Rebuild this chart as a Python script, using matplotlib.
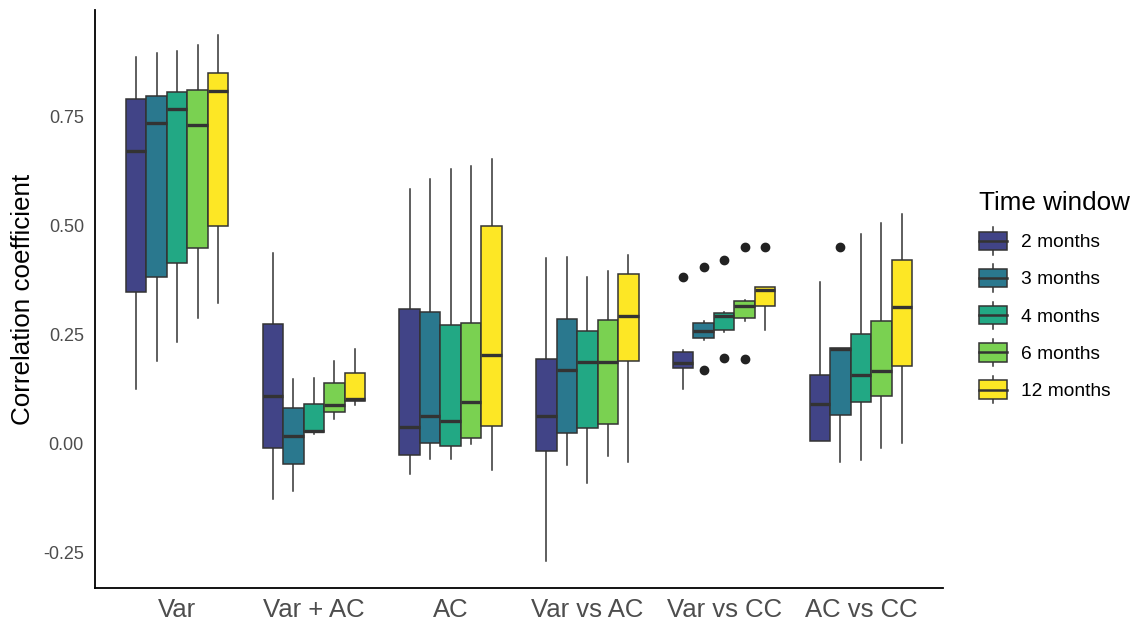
import matplotlib
matplotlib.use("Agg")
import matplotlib.pyplot as plt
from matplotlib.legend_handler import HandlerBase
from matplotlib.patches import Rectangle, Patch
from matplotlib.lines import Line2D

plt.rcParams['font.family'] = ['Liberation Sans', 'DejaVu Sans']

categorias = ["Var", "Var + AC", "AC", "Var vs AC", "Var vs CC", "AC vs CC"]
ventanas = ["2 months", "3 months", "4 months", "6 months", "12 months"]
colores = ["#414487", "#2A788E", "#22A884", "#7AD151", "#FDE725"]

# filas = categorias, columnas = ventanas de tiempo
bigote_sup = [[0.886, 0.896, 0.902, 0.915, 0.938],
              [0.437, 0.147, 0.151, 0.190, 0.216],
              [0.585, 0.608, 0.629, 0.637, 0.654],
              [0.426, 0.429, 0.381, 0.395, 0.433],
              [0.214, 0.280, 0.302, 0.329, 0.360],
              [0.370, 0.220, 0.481, 0.506, 0.527]]
q3 = [[0.790, 0.798, 0.807, 0.811, 0.850],
      [0.273, 0.081, 0.091, 0.139, 0.162],
      [0.309, 0.301, 0.272, 0.277, 0.498],
      [0.194, 0.285, 0.258, 0.283, 0.389],
      [0.209, 0.277, 0.300, 0.327, 0.360],
      [0.158, 0.220, 0.251, 0.282, 0.422]]
mediana = [[0.671, 0.735, 0.767, 0.730, 0.808],
           [0.108, 0.018, 0.028, 0.089, 0.102],
           [0.038, 0.063, 0.051, 0.094, 0.203],
           [0.063, 0.168, 0.187, 0.187, 0.293],
           [0.184, 0.258, 0.293, 0.316, 0.353],
           [0.090, 0.217, 0.158, 0.166, 0.312]]
q1 = [[0.347, 0.382, 0.414, 0.448, 0.500],
      [-0.010, -0.047, 0.026, 0.071, 0.097],
      [-0.026, 0.002, -0.007, 0.013, 0.039],
      [-0.018, 0.024, 0.036, 0.045, 0.190],
      [0.172, 0.241, 0.260, 0.287, 0.316],
      [0.005, 0.065, 0.095, 0.109, 0.177]]
bigote_inf = [[0.124, 0.189, 0.233, 0.287, 0.322],
              [-0.127, -0.110, 0.022, 0.055, 0.089],
              [-0.070, -0.035, -0.035, -0.001, -0.062],
              [-0.271, -0.049, -0.091, -0.029, -0.043],
              [0.124, 0.238, 0.255, 0.281, 0.260],
              [0.005, -0.043, -0.039, -0.011, 0.001]]
atipicos = [[[], [], [], [], []],
            [[], [], [], [], []],
            [[], [], [], [], []],
            [[], [], [], [], []],
            [[0.383], [0.406, 0.168], [0.420, 0.195], [0.451, 0.194], [0.450]],
            [[], [0.451], [], [], []]]

BORDE = "#333333"


class ManejadorCaja(HandlerBase):
    def create_artists(self, legend, orig_handle, xdescent, ydescent, width, height, fontsize, trans):
        x0, y0 = -xdescent, -ydescent
        xm = x0 + width / 2
        sup = Line2D([xm, xm], [y0 + 0.9 * height, y0 + 1.1 * height], color=BORDE, lw=1.1, transform=trans)
        inf = Line2D([xm, xm], [y0 - 0.1 * height, y0 + 0.1 * height], color=BORDE, lw=1.1, transform=trans)
        caja = Rectangle((x0, y0 + 0.1 * height), width, 0.8 * height,
                         facecolor=orig_handle.get_facecolor(), edgecolor=BORDE, lw=1.1, transform=trans)
        med = Line2D([x0, x0 + width], [y0 + height / 2] * 2, color=BORDE, lw=1.8, transform=trans)
        return [sup, inf, caja, med]


fig = plt.figure(figsize=(11.33, 6.24), dpi=100)
ax = fig.add_axes([95 / 1133, 1 - 588 / 624, (943 - 95) / 1133, (588 - 10) / 624])

ancho = 0.15
for i in range(len(categorias)):
    for j in range(len(ventanas)):
        stats = [{"whislo": bigote_inf[i][j], "q1": q1[i][j], "med": mediana[i][j],
                  "q3": q3[i][j], "whishi": bigote_sup[i][j], "fliers": atipicos[i][j]}]
        pos = i + (j - 2) * ancho
        partes = ax.bxp(stats, positions=[pos], widths=ancho, patch_artist=True,
                        showcaps=False, manage_ticks=False,
                        boxprops=dict(facecolor=colores[j], edgecolor=BORDE, linewidth=1.1),
                        medianprops=dict(color=BORDE, linewidth=2.4, solid_capstyle="butt"),
                        whiskerprops=dict(color=BORDE, linewidth=1.1),
                        flierprops=dict(marker="o", markerfacecolor="#222222", markeredgecolor="#222222",
                                        markersize=6))
        for w in partes["whiskers"]:
            w.set_zorder(1)

ax.set_xlim(-0.6, len(categorias) - 0.4)
ax.set_ylim(-0.332, 0.995)
ax.set_xticks(range(len(categorias)))
ax.set_xticklabels(categorias, fontsize=18.5, color="#4D4D4D")
ax.set_yticks([-0.25, 0.0, 0.25, 0.5, 0.75])
ax.set_yticklabels(["-0.25", "0.00", "0.25", "0.50", "0.75"], fontsize=13, color="#4D4D4D")
ax.tick_params(length=0, pad=8)
ax.tick_params(axis="x", pad=7)
ax.set_ylabel("Correlation coefficient", fontsize=18.7, labelpad=6)
for lado in ["top", "right"]:
    ax.spines[lado].set_visible(False)
for lado in ["left", "bottom"]:
    ax.spines[lado].set_linewidth(1.3)
    ax.spines[lado].set_color("black")

manijas = [Patch(facecolor=c) for c in colores]
fig.legend(manijas, ventanas, title="Time window", loc="upper left",
           bbox_to_anchor=(962 / 1133, 1 - 174 / 624), frameon=False,
           handler_map={Patch: ManejadorCaja()}, fontsize=13.8, title_fontsize=18.7,
           handlelength=1.45, handleheight=1.45, labelspacing=0.75, handletextpad=0.75,
           alignment="left")

fig.savefig("out.png", dpi=100)
